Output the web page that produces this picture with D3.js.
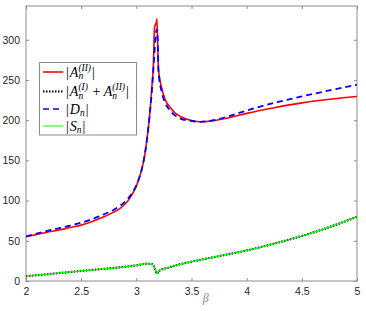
<!DOCTYPE html>
<html>
<head>
<meta charset="utf-8">
<script src="https://cdn.jsdelivr.net/npm/d3@7"></script>
<style>
  body { margin: 0; background: #fff; }
  svg { display: block; }
  .tick text { font-family: "Liberation Sans", Arial, sans-serif; font-size: 10.5px; fill: #262626; }
</style>
</head>
<body>
<div id="chart"></div>
<script>
// beta values and curve values
var betaA = [2.0, 2.1, 2.2, 2.3, 2.4, 2.5, 2.6, 2.7, 2.8, 2.85, 2.9, 2.95, 3.0, 3.03, 3.06, 3.08, 3.1, 3.12, 3.14, 3.155, 3.165, 3.18, 3.186, 3.195, 3.2, 3.23, 3.26, 3.3, 3.35, 3.4, 3.5, 3.58, 3.7, 3.85, 4.0, 4.25, 4.5, 4.75, 5.0];
var valA = [55, 58, 61, 63.5, 66.5, 69.5, 74, 79.5, 86, 90, 96, 105, 118, 130, 145, 160, 180, 205, 240, 270, 316, 321, 326, 290, 265, 240, 226, 217, 209, 204.5, 199.5, 198, 199.5, 203.5, 208.5, 215.5, 221.5, 226, 229.5];

var betaD = [2.0, 2.2, 2.4, 2.5, 2.6, 2.7, 2.8, 2.9, 2.95, 3.0, 3.03, 3.06, 3.08, 3.1, 3.12, 3.14, 3.16, 3.175, 3.185, 3.195, 3.2, 3.23, 3.26, 3.3, 3.35, 3.4, 3.5, 3.58, 3.7, 3.85, 4.0, 4.25, 4.5, 4.75, 5.0];
var valD = [55.5, 62.5, 69, 72.5, 77, 82.5, 89, 99, 107, 119, 130, 145, 160, 180, 205, 235, 275, 305, 313, 295, 262, 235, 222, 213, 206, 202, 199, 198, 200, 205.5, 212, 221.5, 229.5, 237, 244];

var betaS = [2.0, 2.5, 3.0, 3.1, 3.14, 3.17, 3.186, 3.2, 3.3, 3.4, 3.5, 3.75, 4.0, 4.25, 4.5, 4.75, 5.0];
var valS = [6, 12.5, 19.5, 21.5, 21, 15, 9, 12, 17, 21, 24, 31, 38, 46.5, 56, 67, 80];

var xTicks = [2, 2.5, 3, 3.5, 4, 4.5, 5];
var yTicks = [0, 50, 100, 150, 200, 250, 300];

var width = 366, height = 311;
var margin = {top: 6, right: 9, bottom: 30, left: 26};
var w = width - margin.left - margin.right;
var h = height - margin.top - margin.bottom;

var svg = d3.select("#chart").append("svg")
  .attr("width", width)
  .attr("height", height);

var g = svg.append("g")
  .attr("transform", "translate(" + margin.left + "," + margin.top + ")");

var x = d3.scaleLinear().domain([2, 5]).range([0, w]);
var y = d3.scaleLinear().domain([0, 342]).range([h, 0]);

var axisColor = "#8c8c8c";

// box and ticks (MATLAB style, ticks inside on all four sides)
function styleAxis(sel) {
  sel.select(".domain").remove();
  sel.selectAll(".tick line").attr("stroke", axisColor);
}
g.append("g").attr("transform", "translate(0," + h + ")")
  .call(d3.axisBottom(x).tickValues(xTicks).tickSizeInner(-3).tickSizeOuter(0).tickPadding(7).tickFormat(d3.format("")))
  .call(styleAxis);
g.append("g")
  .call(d3.axisTop(x).tickValues(xTicks).tickSizeInner(-3).tickSizeOuter(0).tickFormat(""))
  .call(styleAxis);
g.append("g")
  .call(d3.axisLeft(y).tickValues(yTicks).tickSizeInner(-3).tickSizeOuter(0).tickPadding(6))
  .call(styleAxis);
g.append("g").attr("transform", "translate(" + w + ",0)")
  .call(d3.axisRight(y).tickValues(yTicks).tickSizeInner(-3).tickSizeOuter(0).tickFormat(""))
  .call(styleAxis);

g.append("rect")
  .attr("width", w).attr("height", h)
  .attr("fill", "none").attr("stroke", axisColor).attr("stroke-width", 1);

// clip so curves stay in the box
g.append("clipPath").attr("id", "clip").append("rect").attr("width", w).attr("height", h);
var plot = g.append("g").attr("clip-path", "url(#clip)");

var line = d3.line()
  .x(function(d) { return x(d[0]); })
  .y(function(d) { return y(d[1]); })
  .curve(d3.curveMonotoneX);

var dataA = d3.zip(betaA, valA);
var dataD = d3.zip(betaD, valD);
var dataS = d3.zip(betaS, valS);

plot.append("path").datum(dataA).attr("d", line)
  .attr("fill", "none").attr("stroke", "#ff0000").attr("stroke-width", 1.6);
plot.append("path").datum(dataD).attr("d", line)
  .attr("fill", "none").attr("stroke", "#0000ff").attr("stroke-width", 1.8)
  .attr("stroke-dasharray", "6,4");
plot.append("path").datum(dataS).attr("d", line)
  .attr("fill", "none").attr("stroke", "#000").attr("stroke-width", 2.2)
  .attr("stroke-dasharray", "1.5,1.5");
plot.append("path").datum(dataS).attr("d", line)
  .attr("fill", "none").attr("stroke", "#00ff00").attr("stroke-width", 1.2);

// x label
svg.append("text")
  .attr("x", margin.left + x(3.63)).attr("y", 302)
  .attr("text-anchor", "middle")
  .attr("font-family", "'Liberation Serif', serif")
  .attr("font-style", "italic")
  .attr("font-size", 12)
  .attr("fill", "#8c8c8c")
  .text("β");

// legend
var legend = svg.append("g");
legend.append("rect")
  .attr("x", 39.5).attr("y", 62.5).attr("width", 97).attr("height", 72.5)
  .attr("fill", "#fff").attr("stroke", axisColor);

var serif = "'Liberation Serif', 'DejaVu Serif', serif";

// draw a math label made of parts; each part can have a sub and sup stacked after it
function mathLabel(sel, x0, y0, parts) {
  var cx = x0;
  parts.forEach(function(p) {
    var t = sel.append("text").attr("x", cx).attr("y", y0)
      .attr("font-family", serif).attr("font-size", 14)
      .attr("font-style", p.italic ? "italic" : "normal")
      .attr("fill", "#000").text(p.t);
    cx += t.node().getComputedTextLength() + (p.pad || 0);
    var adv = 0;
    if (p.sub) {
      var s = sel.append("text").attr("x", cx).attr("y", y0 + 2.5)
        .attr("font-family", serif).attr("font-size", 9.5).attr("font-style", "italic").text(p.sub);
      adv = Math.max(adv, s.node().getComputedTextLength());
    }
    if (p.sup) {
      var u = sel.append("text").attr("x", cx).attr("y", y0 - 6)
        .attr("font-family", serif).attr("font-size", 9.5).attr("font-style", "italic").text(p.sup);
      adv = Math.max(adv, u.node().getComputedTextLength());
    }
    cx += adv + (adv ? 1 : 0);
  });
}

var entries = [
  {y: 72, stroke: "#ff0000", dash: null, sw: 1.6,
   parts: [{t: "|", pad: 1}, {t: "A", italic: true, sub: "n", sup: "(II)"}, {t: "|"}]},
  {y: 91.5, stroke: "#000", dash: "1.5,1.5", sw: 2,
   parts: [{t: "|", pad: 1}, {t: "A", italic: true, sub: "n", sup: "(I)"}, {t: "\u00a0+\u00a0"}, {t: "A", italic: true, sub: "n", sup: "(II)"}, {t: "|"}]},
  {y: 109, stroke: "#0000ff", dash: "6,4", sw: 1.6,
   parts: [{t: "|", pad: 1}, {t: "D", italic: true, sub: "n"}, {t: "|"}]},
  {y: 126, stroke: "#00ff00", dash: null, sw: 1,
   parts: [{t: "|", pad: 1}, {t: "S", italic: true, sub: "n"}, {t: "|"}]}
];

entries.forEach(function(e) {
  legend.append("line")
    .attr("x1", 43).attr("x2", 63).attr("y1", e.y).attr("y2", e.y)
    .attr("stroke", e.stroke).attr("stroke-width", e.sw)
    .attr("stroke-dasharray", e.dash);
  mathLabel(legend, 66, e.y + 4.5, e.parts);
});
</script>
</body>
</html>
